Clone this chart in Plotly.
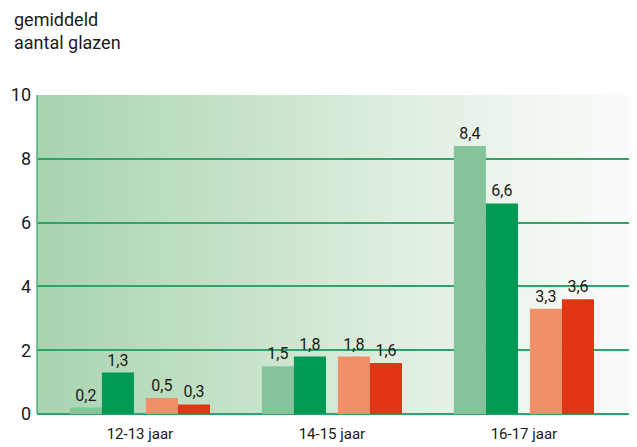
import plotly.graph_objects as go

categories = ["12-13 jaar", "14-15 jaar", "16-17 jaar"]
series_names = ["serie 1", "serie 2", "serie 3", "serie 4"]
values_light_green = [0.2, 1.5, 8.4]
values_dark_green = [1.3, 1.8, 6.6]
values_salmon = [0.5, 1.8, 3.3]
values_red = [0.3, 1.6, 3.6]
y_ticks = [0, 2, 4, 6, 8, 10]

colors = ["#85C39A", "#009A54", "#F09068", "#E23517"]
offsets = [-0.365, -0.198, 0.031, 0.198]
bar_w = 0.167

fig = go.Figure()
for name, vals, col, off in zip(series_names,
                                [values_light_green, values_dark_green, values_salmon, values_red],
                                colors, offsets):
    fig.add_trace(go.Bar(
        x=categories, y=vals, name=name,
        marker=dict(color=col, line=dict(width=0)),
        width=bar_w, offset=off,
        text=vals, texttemplate="%{y:.1f}", textposition="outside",
        constraintext="none",
        textfont=dict(size=16, color="#1a1a1a", family="Roboto"),
        cliponaxis=False,
    ))

# gradient background via thin strips
def lerp(c1, c2, t):
    return tuple(round(a + (b - a) * t) for a, b in zip(c1, c2))

stops = [(0.0, (168, 212, 176)), (0.33, (197, 226, 201)), (0.65, (227, 240, 228)), (1.0, (251, 252, 250))]
n = 120
shapes = []
for i in range(n):
    t = (i + 0.5) / n
    for j in range(len(stops) - 1):
        if stops[j][0] <= t <= stops[j + 1][0]:
            tt = (t - stops[j][0]) / (stops[j + 1][0] - stops[j][0])
            c = lerp(stops[j][1], stops[j + 1][1], tt)
            break
    shapes.append(dict(type="rect", xref="x domain", yref="y domain",
                       x0=i / n, x1=(i + 1) / n + 0.002, y0=0, y1=1,
                       fillcolor="rgb(%d,%d,%d)" % c, line=dict(width=0), layer="below"))
# left border
shapes.append(dict(type="line", xref="x domain", yref="y domain", x0=0, x1=0, y0=0, y1=1,
                   line=dict(color="#4DB27A", width=1.5), layer="above"))

# page body has an 8px margin; compensate so the plot lands where it should
L, R, T, B = 29, 8, 87, 41
PW = 637 - L - R
PH = 447 - T - B

fig.update_layout(
    width=637, height=447,
    margin=dict(l=L, r=R, t=T, b=B),
    paper_bgcolor="white",
    plot_bgcolor="rgba(0,0,0,0)",
    separators=",.",
    showlegend=False,
    shapes=shapes,
    font=dict(family="Roboto", color="#1a1a1a"),
    xaxis=dict(range=[-0.536, 2.589], showgrid=False, zeroline=False, showline=False,
               automargin=False, ticks="", tickfont=dict(size=15, color="#1a1a1a"),
               ticklabelstandoff=9),
    yaxis=dict(range=[0, 10], tickvals=y_ticks, showgrid=True, gridcolor="#2FA36B", gridwidth=1.5,
               zeroline=True, zerolinecolor="#2FA36B", zerolinewidth=1.5,
               automargin=False,
               showline=False, ticks="", tickfont=dict(size=18, color="#1a1a1a"),
               ticklabelstandoff=5),
    annotations=[dict(text="gemiddeld<br>aantal glazen", xref="paper", yref="paper",
                      x=(12 - 8 - L) / PW, y=1 + (T + 1) / PH, xanchor="left", yanchor="top",
                      align="left", showarrow=False,
                      font=dict(size=18, color="#1a1a1a", family="Roboto"))],
)

fig.write_html("out.html")
